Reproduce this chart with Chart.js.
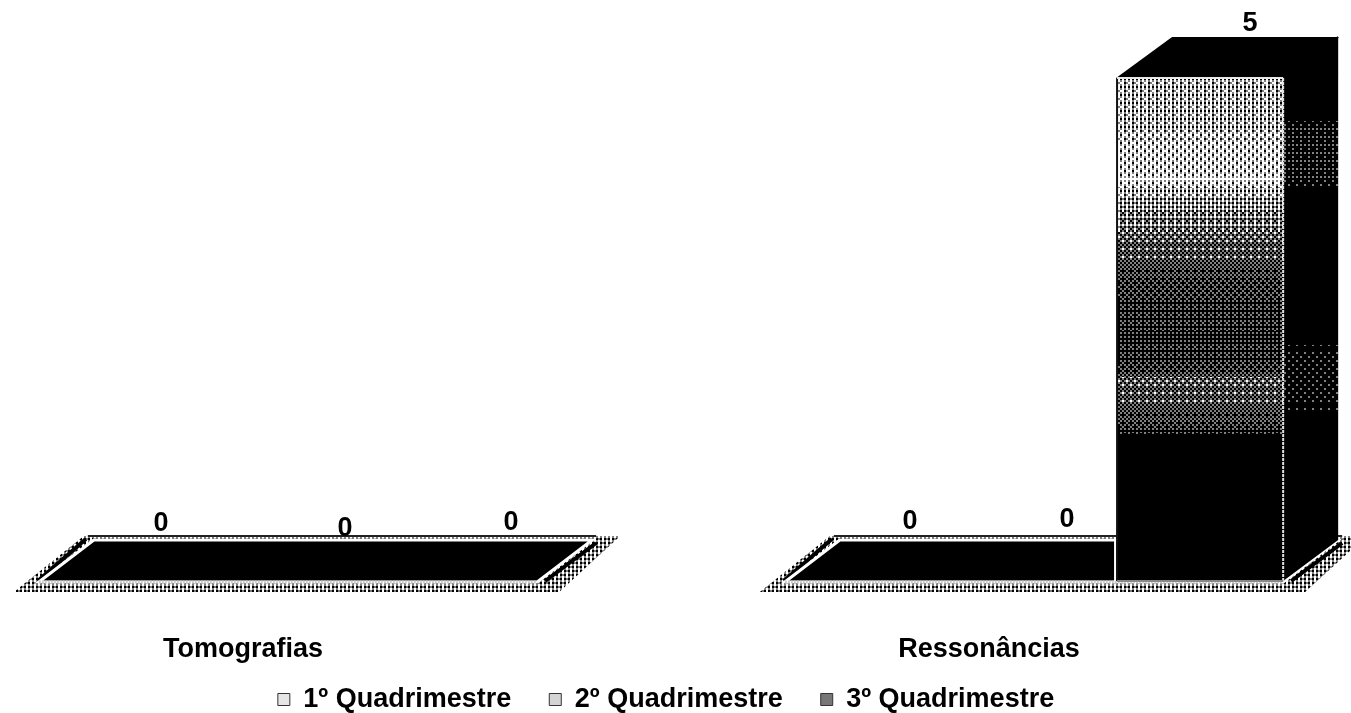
<!DOCTYPE html>
<html lang="pt">

<head>
  <meta charset="UTF-8" />
  <title>Tomografias e Ressonâncias</title>
  <script src="https://cdn.jsdelivr.net/npm/chart.js"></script>
  <style>
    body { margin: 0; background: #fff; }
    canvas { display: block; }
  </style>
</head>

<body>
  <canvas id="myChart" width="1351" height="713"></canvas>

  <script>
    // Dados
    const categorias = ['Tomografias', 'Ressonâncias']
    const quadrimestres = ['1º Quadrimestre', '2º Quadrimestre', '3º Quadrimestre']
    const quad1 = [0, 0]
    const quad2 = [0, 0]
    const quad3 = [0, 5]
    const valorMaximo = 5

    const fonte = '"Liberation Sans", Arial, sans-serif'
    const profundidadeX = 55
    const profundidadeY = -41

    // deslocamento dos rotulos em relacao ao centro da barra: [quadrimestre][categoria] = [x, y]
    const ajusteRotulos = [
      [[39, -57], [42, -59]],
      [[57, -52], [33, -61]],
      [[57, -58], [50, -54]]
    ]

    const bayer = [
      [0, 8, 2, 10],
      [12, 4, 14, 6],
      [3, 11, 1, 9],
      [15, 7, 13, 5]
    ]

    // Textura pontilhada: preto, cinza e branco, como no grafico escaneado
    function criaPadrao(ctx, largura, altura, brilho) {
      const tela = document.createElement('canvas')
      tela.width = largura
      tela.height = altura
      const c = tela.getContext('2d')
      const img = c.createImageData(largura, altura)
      for (let y = 0; y < altura; y++) {
        const g = brilho(y)
        for (let x = 0; x < largura; x++) {
          const limite = (bayer[(y >> 1) % 4][(x >> 1) % 4] + 0.5) / 16
          const limite2 = (bayer[((y >> 1) + 1) % 4][((x >> 1) + 2) % 4] + 0.5) / 16
          let v = 0
          if (g * 1.2 > limite) v = g > limite2 ? 255 : 128
          const i = (y * largura + x) * 4
          img.data[i] = img.data[i + 1] = img.data[i + 2] = v
          img.data[i + 3] = 255
        }
      }
      c.putImageData(img, 0, 0)
      return ctx.createPattern(tela, 'no-repeat')
    }

    // interpola entre pares [fracao da altura, brilho]
    function perfil(paradas, t) {
      if (t <= paradas[0][0]) return paradas[0][1]
      for (let i = 1; i < paradas.length; i++) {
        if (t <= paradas[i][0]) {
          const a = paradas[i - 1], b = paradas[i]
          return a[1] + (b[1] - a[1]) * (t - a[0]) / (b[0] - a[0])
        }
      }
      return paradas[paradas.length - 1][1]
    }

    const paradasFrente = [[0, 0.66], [0.1, 0.7], [0.2, 0.76], [0.25, 0.62], [0.35, 0.46], [0.42, 0.3], [0.52, 0.22], [0.58, 0.3], [0.6, 0.52], [0.66, 0.42], [0.7, 0.24], [0.71, 0], [1, 0]]
    const paradasLado = [[0, 0], [0.08, 0], [0.1, 0.14], [0.2, 0.16], [0.23, 0], [0.52, 0], [0.55, 0.08], [0.64, 0.1], [0.67, 0], [1, 0]]

    function poligono(ctx, pontos) {
      ctx.beginPath()
      pontos.forEach((p, i) => i ? ctx.lineTo(p[0], p[1]) : ctx.moveTo(p[0], p[1]))
      ctx.closePath()
    }

    function linha(ctx, x1, y1, x2, y2, cor, largura) {
      ctx.strokeStyle = cor
      ctx.lineWidth = largura
      ctx.beginPath()
      ctx.moveTo(x1, y1)
      ctx.lineTo(x2, y2)
      ctx.stroke()
    }

    // Caixas em 3D, base e rotulos, sempre a partir das barras calculadas pelo Chart.js
    const plugin3d = {
      id: 'plugin3d',
      afterLayout(chart) {
        // o eixo x corta os textos no proprio limite inferior
        chart.scales.x.bottom = chart.height
      },
      afterDatasetsDraw(chart) {
        const ctx = chart.ctx
        const base = chart.scales.y.getPixelForValue(0)
        const topo = chart.scales.y.getPixelForValue(valorMaximo)
        const dx = profundidadeX
        const dy = profundidadeY
        const metas = chart.getSortedVisibleDatasetMetas()

        const padraoBase = criaPadrao(ctx, chart.width, chart.height, () => 0.6)
        const padraoFrente = criaPadrao(ctx, chart.width, chart.height, y => perfil(paradasFrente, (y - topo) / (base - topo)))
        const padraoLado = criaPadrao(ctx, chart.width, chart.height, y => perfil(paradasLado, (y - topo) / (base - topo)))

        ctx.save()

        // base de cada grupo
        categorias.forEach((_, j) => {
          const primeira = metas[0].data[j]
          const ultima = metas[metas.length - 1].data[j]
          const esq = primeira.x - primeira.width / 2
          const dir = ultima.x + ultima.width / 2
          const fundo = base + dy

          ctx.fillStyle = '#fff'
          poligono(ctx, [[esq - 25, base + 13], [esq + dx - 10, fundo - 6], [dir + dx + 28, fundo - 6], [dir + 22, base + 13]])
          ctx.fill()
          ctx.fillStyle = padraoBase
          poligono(ctx, [[esq - 25, base + 11], [esq + dx - 10, fundo - 4], [dir + dx + 28, fundo - 4], [dir + 22, base + 11]])
          ctx.fill()

          linha(ctx, esq - 1, base, esq + dx - 8, fundo - 1, '#000', 4)
          linha(ctx, dir + 8, base, dir + dx + 4, fundo + 3, '#000', 4)
          linha(ctx, esq + dx - 6, fundo - 4, dir + dx + 4, fundo - 4, '#222', 2)

          ctx.fillStyle = '#000'
          poligono(ctx, [[esq, base + 1], [esq + dx, fundo], [dir + dx, fundo], [dir, base + 1]])
          ctx.fill()

          // contorno branco da base
          ctx.strokeStyle = '#fff'
          ctx.lineWidth = 3
          ctx.stroke()
          ctx.setLineDash([2, 1])
          linha(ctx, esq, base + 1, dir, base + 1, '#ccc', 3)
          ctx.setLineDash([])
        })

        // faces de cada barra
        metas.forEach(meta => {
          meta.data.forEach(bar => {
            if (bar.y >= base) return
            const esq = bar.x - bar.width / 2
            const dir = bar.x + bar.width / 2

            linha(ctx, esq - 2, base, esq - 2, base + dy, '#fff', 2)

            ctx.fillStyle = padraoLado
            poligono(ctx, [[dir, bar.y], [dir + dx, bar.y + dy], [dir + dx, base + dy], [dir, base]])
            ctx.fill()

            ctx.fillStyle = '#000'
            poligono(ctx, [[esq - 1, bar.y], [esq + dx, bar.y + dy], [dir + dx, bar.y + dy], [dir, bar.y]])
            ctx.fill()
            linha(ctx, dir, bar.y, dir + dx, bar.y + dy, '#000', 2)

            ctx.fillStyle = padraoFrente
            ctx.fillRect(esq, bar.y, bar.width, base - bar.y)

            linha(ctx, esq, bar.y, esq, base, '#111', 2)
            linha(ctx, esq, bar.y, dir, bar.y, '#e8e8e8', 2)
            ctx.setLineDash([3, 1])
            linha(ctx, dir, bar.y, dir, base, '#e0e0e0', 2)
            ctx.setLineDash([])
            linha(ctx, esq, base, dir, base, '#888', 2)
          })
        })

        // rotulos de valor
        ctx.fillStyle = '#000'
        ctx.font = 'bold 27px ' + fonte
        ctx.textAlign = 'center'
        ctx.textBaseline = 'middle'
        metas.forEach((meta, i) => {
          const dados = chart.data.datasets[meta.index].data
          meta.data.forEach((bar, j) => {
            ctx.fillText(dados[j], bar.x + ajusteRotulos[i][j][0], bar.y + ajusteRotulos[i][j][1])
          })
        })

        ctx.restore()
      }
    }

    const eixoVazio = {
      display: true,
      grid: { display: false },
      border: { display: false },
      ticks: { display: false }
    }

    new Chart(document.getElementById('myChart'), {
      type: 'bar',
      data: {
        labels: categorias,
        datasets: [
          { label: quadrimestres[0], data: quad1, backgroundColor: '#e6e6e6', borderColor: '#333', borderWidth: 1, clip: false },
          { label: quadrimestres[1], data: quad2, backgroundColor: '#d4d4d4', borderColor: '#333', borderWidth: 1, clip: false },
          { label: quadrimestres[2], data: quad3, backgroundColor: '#777', borderColor: '#333', borderWidth: 1, clip: false }
        ]
      },
      plugins: [plugin3d],
      options: {
        responsive: false,
        animation: false,
        categoryPercentage: 0.668,
        barPercentage: 1,
        layout: { padding: { top: 78, right: 19, bottom: -10, left: 0 } },
        plugins: {
          tooltip: { enabled: false },
          legend: {
            position: 'bottom',
            labels: {
              color: '#000',
              boxWidth: 12,
              boxHeight: 12,
              padding: 38,
              font: { family: fonte, size: 27, weight: 'bold' }
            }
          }
        },
        scales: {
          x: {
            offset: false,
            grid: { display: false, drawTicks: false },
            border: { display: false },
            ticks: {
              color: '#000',
              padding: 52,
              labelOffset: -45,
              maxRotation: 0,
              autoSkip: false,
              font: { family: fonte, size: 27, weight: 'bold' }
            },
            afterFit(eixo) { eixo.height = 67 }
          },
          y: {
            ...eixoVazio,
            min: 0,
            max: valorMaximo,
            afterFit(eixo) { eixo.width = 288 }
          },
          yDireita: {
            ...eixoVazio,
            position: 'right',
            afterFit(eixo) { eixo.width = 298 }
          }
        }
      }
    })
  </script>
</body>

</html>
